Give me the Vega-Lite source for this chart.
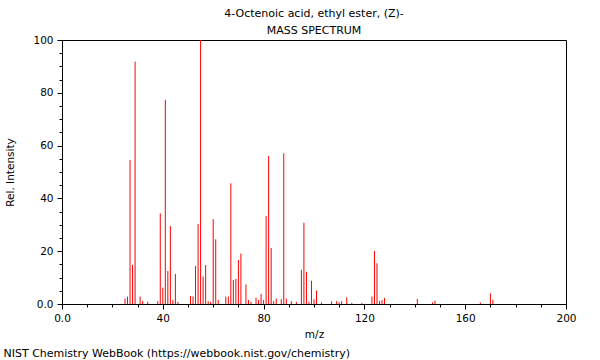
{
  "$schema": "https://vega.github.io/schema/vega-lite/v6.json",
  "autosize": "none",
  "padding": {"left": 62, "top": 40, "right": 34, "bottom": 56},
  "width": 504,
  "height": 264,
  "title": {
    "text": ["4-Octenoic acid, ethyl ester, (Z)-", "MASS SPECTRUM"],
    "font": "DejaVu Sans",
    "fontSize": 11,
    "fontWeight": "normal",
    "color": "black",
    "lineHeight": 17,
    "offset": -1,
    "anchor": "middle"
  },
  "data": {
    "values": [
      {"mz": 25, "intensity": 2.1},
      {"mz": 26, "intensity": 2.8},
      {"mz": 27, "intensity": 54.5},
      {"mz": 28, "intensity": 14.8},
      {"mz": 29, "intensity": 91.8},
      {"mz": 31, "intensity": 2.8},
      {"mz": 32, "intensity": 1.1},
      {"mz": 34, "intensity": 0.8},
      {"mz": 38, "intensity": 1.1},
      {"mz": 39, "intensity": 34.3},
      {"mz": 40, "intensity": 6.2},
      {"mz": 41, "intensity": 77.3},
      {"mz": 42, "intensity": 12.5},
      {"mz": 43, "intensity": 29.5},
      {"mz": 44, "intensity": 1.5},
      {"mz": 45, "intensity": 11.4},
      {"mz": 46, "intensity": 0.8},
      {"mz": 51, "intensity": 3.0},
      {"mz": 52, "intensity": 2.8},
      {"mz": 53, "intensity": 14.4},
      {"mz": 54, "intensity": 30.3},
      {"mz": 55, "intensity": 100},
      {"mz": 56, "intensity": 10.4},
      {"mz": 57, "intensity": 14.8},
      {"mz": 58, "intensity": 1.1},
      {"mz": 59, "intensity": 0.8},
      {"mz": 60, "intensity": 32.1},
      {"mz": 61, "intensity": 24.5},
      {"mz": 62, "intensity": 1.5},
      {"mz": 65, "intensity": 2.8},
      {"mz": 66, "intensity": 2.8},
      {"mz": 67, "intensity": 45.7},
      {"mz": 68, "intensity": 9.1},
      {"mz": 69, "intensity": 9.5},
      {"mz": 70, "intensity": 16.7},
      {"mz": 71, "intensity": 19.1},
      {"mz": 73, "intensity": 7.4},
      {"mz": 74, "intensity": 1.5},
      {"mz": 75, "intensity": 0.8},
      {"mz": 77, "intensity": 2.4},
      {"mz": 78, "intensity": 1.5},
      {"mz": 79, "intensity": 3.8},
      {"mz": 80, "intensity": 1.5},
      {"mz": 81, "intensity": 33.3},
      {"mz": 82, "intensity": 56.1},
      {"mz": 83, "intensity": 21.2},
      {"mz": 84, "intensity": 1.1},
      {"mz": 85, "intensity": 2.1},
      {"mz": 87, "intensity": 1.8},
      {"mz": 88, "intensity": 57.1},
      {"mz": 89, "intensity": 2.1},
      {"mz": 91, "intensity": 1.1},
      {"mz": 93, "intensity": 0.8},
      {"mz": 95, "intensity": 12.9},
      {"mz": 96, "intensity": 30.8},
      {"mz": 97, "intensity": 12.2},
      {"mz": 98, "intensity": 0.8},
      {"mz": 99, "intensity": 8.8},
      {"mz": 100, "intensity": 1.8},
      {"mz": 101, "intensity": 5.1},
      {"mz": 103, "intensity": 0.6},
      {"mz": 107, "intensity": 1.0},
      {"mz": 109, "intensity": 1.1},
      {"mz": 110, "intensity": 0.6},
      {"mz": 111, "intensity": 1.1},
      {"mz": 113, "intensity": 2.5},
      {"mz": 115, "intensity": 0.4},
      {"mz": 119, "intensity": 0.4},
      {"mz": 123, "intensity": 2.8},
      {"mz": 124, "intensity": 20.1},
      {"mz": 125, "intensity": 15.4},
      {"mz": 126, "intensity": 1.1},
      {"mz": 127, "intensity": 1.5},
      {"mz": 128, "intensity": 2.3},
      {"mz": 141, "intensity": 1.9},
      {"mz": 147, "intensity": 0.6},
      {"mz": 148, "intensity": 1.3},
      {"mz": 166, "intensity": 0.6},
      {"mz": 170, "intensity": 4.0},
      {"mz": 171, "intensity": 1.6}
    ]
  },
  "layer": [
    {
      "mark": {"type": "rule", "color": "#ff0000", "strokeWidth": 1},
      "encoding": {
        "x": {
          "field": "mz",
          "type": "quantitative",
          "scale": {"domain": [0, 200], "nice": false, "zero": false},
          "axis": {
            "orient": "bottom",
            "values": [0, 40, 80, 120, 160, 200],
            "labelExpr": "datum.value == 0 ? '0.0' : datum.label",
            "labelFlush": false,
            "tickSize": 5,
            "title": "m/z",
            "titlePadding": 6,
            "labelPadding": 4
          }
        },
        "y": {
          "field": "intensity",
          "type": "quantitative",
          "scale": {"domain": [0, 100], "nice": false},
          "axis": {
            "orient": "left",
            "values": [0, 20, 40, 60, 80, 100],
            "labelExpr": "datum.value == 0 ? '0.0' : datum.label",
            "labelFlush": false,
            "tickSize": 5,
            "title": "Rel. Intensity",
            "titlePadding": 17,
            "labelPadding": 4
          }
        },
        "y2": {"datum": 0}
      }
    },
    {
      "mark": {"type": "rule", "opacity": 0},
      "encoding": {
        "x": {
          "field": "mz",
          "type": "quantitative",
          "axis": {
            "orient": "bottom",
            "values": [0, 10, 20, 30, 40, 50, 60, 70, 80, 90, 100, 110, 120, 130, 140, 150, 160, 170, 180, 190, 200],
            "labels": false,
            "tickSize": 3,
            "title": "NIST Chemistry WebBook (https://webbook.nist.gov/chemistry)",
            "titleFontSize": 11,
            "titleAnchor": "start",
            "titleAlign": "left",
            "titleX": -59,
            "titleY": 49,
            "titleBaseline": "middle"
          }
        },
        "y": {
          "field": "intensity",
          "type": "quantitative",
          "axis": {
            "orient": "left",
            "values": [0, 5, 10, 15, 20, 25, 30, 35, 40, 45, 50, 55, 60, 65, 70, 75, 80, 85, 90, 95, 100],
            "labels": false,
            "tickSize": 3,
            "title": null
          }
        }
      }
    }
  ],
  "resolve": {"axis": {"x": "independent", "y": "independent"}},
  "config": {
    "font": "DejaVu Sans",
    "view": {"stroke": "#000000", "strokeWidth": 1},
    "axis": {
      "grid": false,
      "domain": false,
      "tickColor": "#000000",
      "labelColor": "#000000",
      "titleColor": "#000000",
      "labelFont": "DejaVu Sans",
      "titleFont": "DejaVu Sans",
      "labelFontSize": 10.5,
      "titleFontSize": 10.5,
      "titleFontWeight": "normal"
    }
  }
}
